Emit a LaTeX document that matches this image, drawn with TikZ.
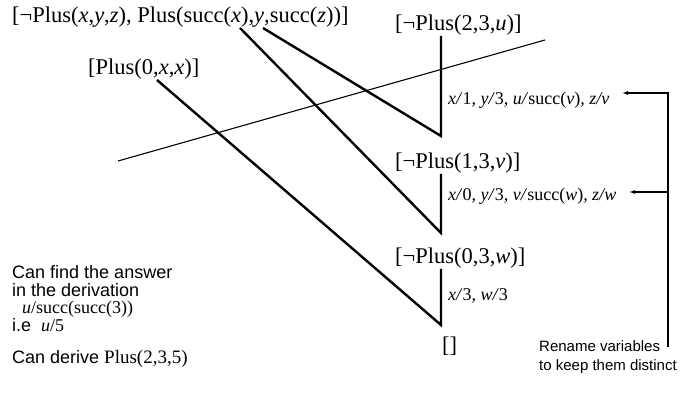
\documentclass[tikz,border=0pt]{standalone}
\usepackage{fontspec}
\setmainfont{Liberation Serif}
\setsansfont{Liberation Sans}
\usetikzlibrary{arrows.meta}
\begin{document}
\begin{tikzpicture}[x=1pt,y=-1pt,
  clause/.style={inner sep=0pt,anchor=base west,font=\fontsize{22.5}{26}\selectfont},
  subst/.style={inner sep=0pt,anchor=base west,font=\fontsize{18}{22}\selectfont\itshape},
  note/.style={inner sep=0pt,anchor=base west,font=\sffamily\fontsize{18}{21}\selectfont},
  small/.style={inner sep=0pt,anchor=base west,font=\sffamily\fontsize{15}{18}\selectfont},
  thick line/.style={line width=2.4pt},
  thin line/.style={line width=1.1pt},
  tip/.style={-{Latex[length=6pt,width=4pt]}}]
\useasboundingbox (0,0) rectangle (681,398);
% clauses
\node[clause] (top) at (12,23) {[¬Plus(\textit{x},\textit{y},\textit{z}), Plus(succ(\textit{x}),\textit{y},succ(\textit{z}))]};
\node[clause] (fact) at (88,75) {[Plus(0,\textit{x},\textit{x})]};
\node[clause] (g1) at (395,31) {[¬Plus(2,3,\textit{u})]};
\node[clause] (g2) at (395,169) {[¬Plus(1,3,\textit{v})]};
\node[clause] (g3) at (395,264) {[¬Plus(0,3,\textit{w})]};
\node[clause] (g4) at (442,353) {[]};
% substitutions
\node[subst] (l1) at (448,105) {x/\textup{1}, y/\textup{3}, u/\textup{succ(}v\textup{)}, z/v};
\node[subst] (l2) at (448,201) {x/\textup{0}, y/\textup{3}, v/\textup{succ(}w\textup{)}, z/w};
\node[subst] (l3) at (448,301) {x/\textup{3}, w/\textup{3}};
% coordinates
\coordinate (s1) at (240,28);
\coordinate (s2) at (263,28);
\coordinate (s3) at (157,80);
\coordinate (b1) at (441,136);
\coordinate (b2) at (441,233);
\coordinate (b3) at (441,325);
\coordinate (t1) at (118,161);
\coordinate (t2) at (545,40);
% derivation lines
\draw[thick line] (g1.south -| b1) -- (b1) -- (s2);
\draw[thick line] (g2.south -| b2) -- (b2) -- (s1);
\draw[thick line] (g3.south -| b3) -- (b3) -- (s3);
\draw[thin line] (t1) -- (t2);
% rename arrows
\coordinate (r0) at (668,347);
\coordinate (r1) at (668,93);
\coordinate (a1) at (622,93);
\coordinate (r2) at (668,192);
\coordinate (a2) at (629,192);
\draw[thin line,tip] (r0) -- (r1) -- (a1);
\draw[thin line,tip] (r2) -- (a2);
\node[small] (ren1) at (539,352) {Rename variables};
\node[small] (ren2) at (539,371) {to keep them distinct};
% notes
\node[note] (n1) at (12,279) {Can find the answer};
\node[note] (n2) at (12,297) {in the derivation};
\node[clause,font=\fontsize{18}{22}\selectfont] (n3) at (22,314) {\textit{u}/succ(succ(3))};
\node[note] (n4) at (12,332) {i.e\ \ {\rmfamily\fontsize{18}{22}\selectfont\textit{u}/5}};
\node[note] (n5) at (12,364) {Can derive {\rmfamily\fontsize{19}{23}\selectfont Plus(2,3,5)}};
\end{tikzpicture}
\end{document}
